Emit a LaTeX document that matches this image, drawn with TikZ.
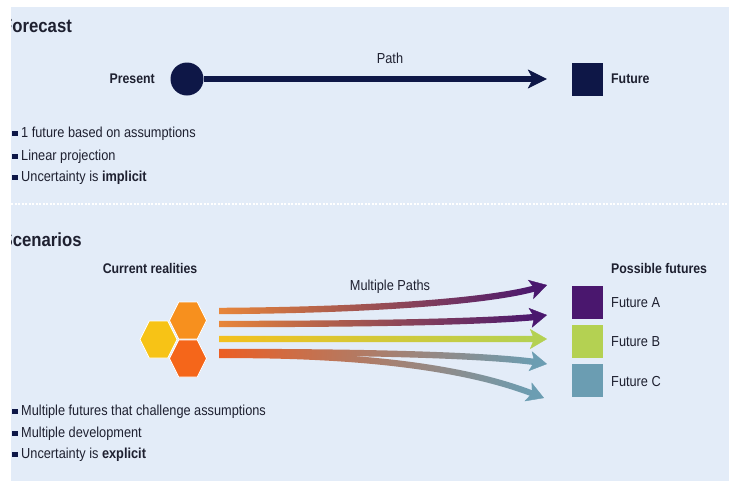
\documentclass[tikz,border=0pt]{standalone}
\usepackage{fontspec}
\setmainfont{Liberation Sans}[FakeStretch=0.88]
\usetikzlibrary{arrows.meta,calc}
\definecolor{bg}{HTML}{E3ECF8}
\definecolor{navy}{HTML}{0E1747}
\definecolor{ink}{HTML}{1E2030}
\definecolor{hexY}{HTML}{F7C316}
\definecolor{hexO}{HTML}{F7901E}
\definecolor{hexR}{HTML}{F5661A}
\definecolor{purp}{HTML}{4A176E}
\definecolor{lgreen}{HTML}{B4D152}
\definecolor{steel}{HTML}{6B9DB2}
\definecolor{startO}{HTML}{E8863A}
\definecolor{startY}{HTML}{F3C01E}
\definecolor{startR}{HTML}{EC5E24}
\newcommand\gradarrow[7]{%
  \shade[left color=#6, right color=#7]
    ($(#1)+(0,-3.2)$) .. controls ($(#2)+(0,-3.2)$) and ($(#3)+(0,-3.2)$) .. ($(#4)+(0,-3.2)$)
    -- ($(#4)+(0,3.2)$) .. controls ($(#3)+(0,3.2)$) and ($(#2)+(0,3.2)$) .. ($(#1)+(0,3.2)$) -- cycle;
  \draw[#7, line width=0.4pt, -{Stealth[length=17pt,width=20pt,inset=4pt,line width=0.4pt]}] (#4) -- (#5);
}
\newcommand\hexat[2]{%
  \fill[#2, draw=white, line width=0.8pt] ($(#1)+(-18.5,0)$) -- ($(#1)+(-9.25,-18.5)$) -- ($(#1)+(9.25,-18.5)$)
    -- ($(#1)+(18.5,0)$) -- ($(#1)+(9.25,18.5)$) -- ($(#1)+(-9.25,18.5)$) -- cycle;}
\newcommand\bul{{\color{navy}\rule[1.5pt]{6pt}{5.5pt}}\hspace{3pt}}
\begin{document}
\begin{tikzpicture}[x=1pt,y=-1pt,
  title/.style={font=\fontsize{19}{22}\selectfont\bfseries, text=ink, anchor=base west, inner sep=0},
  lbl/.style={font=\fontsize{14}{16}\selectfont\bfseries, text=ink, inner sep=0},
  txt/.style={font=\fontsize{14.5}{16}\selectfont, text=ink, inner sep=0},
  bultxt/.style={txt, anchor=west},
  sq/.style={minimum width=31pt, minimum height=33pt, inner sep=0}]
\useasboundingbox (0,0) rectangle (729,480);
\fill[white] (-5,-5) rectangle (735,485);
\fill[bg] (11,7) rectangle (735,485);
\begin{scope}
  \clip (11,7) rectangle (735,485);
  \node[title] (t1) at (2,32) {Forecast};
  \node[title] (t2) at (1.5,246.5) {Scenarios};
\end{scope}
% separator
\draw[white, line width=2.5pt, dash pattern=on 2pt off 1.5pt] (11,204) -- (735,204);
% Forecast
\node[circle, fill=navy, minimum size=33pt, inner sep=0] (pres) at (187,79) {};
\node[lbl, anchor=east] (prest) at (155,79) {Present};
\node[sq, fill=navy] (fut) at (587.5,79) {};
\node[lbl, anchor=west] (futt) at (611,79) {Future};
\draw[navy, line width=5.5pt, shorten >=25pt, -{Stealth[length=19pt,width=19pt,inset=5pt,line width=0.4pt]}] (pres) -- (fut);
\node[txt] (patht) at (390,58) {Path};
\node[bultxt] (fb1) at (12,134) {\bul 1 future based on assumptions};
\node[bultxt] (fb2) at (12,157) {\bul Linear projection};
\node[bultxt] (fb3) at (12,178) {\bul Uncertainty is \textbf{implicit}};
% Scenarios
\node[lbl] (curr) at (150,268) {Current realities};
\coordinate (hy) at (158.5,339.5);
\coordinate (ho) at (188,320.5);
\coordinate (hr) at (188,358.5);
\hexat{hy}{hexY}
\hexat{ho}{hexO}
\hexat{hr}{hexR}
\node[txt] (mpt) at (390,287) {Multiple Paths};
\coordinate (s1) at (219,311); \coordinate (a1) at (380,310); \coordinate (b1) at (492,300.4);
\coordinate (e1) at (535.5,288.2); \coordinate (p1) at (547,285);
\coordinate (s2) at (219,324); \coordinate (a2) at (380,324); \coordinate (b2) at (485,321.5);
\coordinate (e2) at (535,317); \coordinate (p2) at (547,315);
\coordinate (s3) at (219,339); \coordinate (a3) at (320,339); \coordinate (b3) at (430,339);
\coordinate (e3) at (535,339); \coordinate (p3) at (547,339);
\coordinate (s4) at (219,352); \coordinate (a4) at (380,352); \coordinate (b4) at (485,355.5);
\coordinate (e4) at (535,362); \coordinate (p4) at (547,364);
\coordinate (s5) at (219,355); \coordinate (a5) at (360,354); \coordinate (b5) at (465,367.5);
\coordinate (e5) at (532.8,393.7); \coordinate (p5) at (544,398);
\gradarrow{s5}{a5}{b5}{e5}{p5}{startR}{steel}
\gradarrow{s4}{a4}{b4}{e4}{p4}{startR}{steel}
\gradarrow{s3}{a3}{b3}{e3}{p3}{startY}{lgreen}
\gradarrow{s2}{a2}{b2}{e2}{p2}{startO}{purp}
\gradarrow{s1}{a1}{b1}{e1}{p1}{startO}{purp}
\node[lbl, anchor=west] (posf) at (611,268) {Possible futures};
\node[sq, fill=purp] (fA) at (587.5,302.5) {};
\node[sq, fill=lgreen] (fB) at (587.5,341.5) {};
\node[sq, fill=steel] (fC) at (587.5,380.5) {};
\node[txt, anchor=west] (fAt) at (611,303) {Future A};
\node[txt, anchor=west] (fBt) at (611,342) {Future B};
\node[txt, anchor=west] (fCt) at (611,382) {Future C};
\node[bultxt] (sb1) at (12,412) {\bul Multiple futures that challenge assumptions};
\node[bultxt] (sb2) at (12,434) {\bul Multiple development};
\node[bultxt] (sb3) at (12,455) {\bul Uncertainty is \textbf{explicit}};
\end{tikzpicture}
\end{document}
